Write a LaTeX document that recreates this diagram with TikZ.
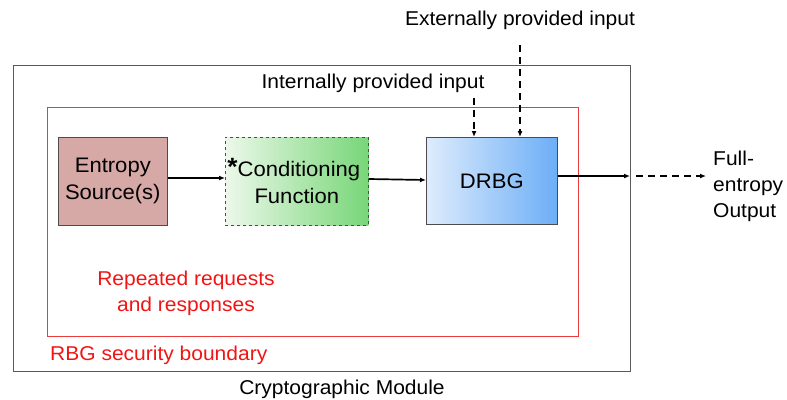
\documentclass[tikz,border=0pt]{standalone}
\usepackage{fontspec}
\setmainfont[FakeStretch=1.05]{Liberation Sans}
\usetikzlibrary{arrows.meta,shadings}
\definecolor{entfill}{RGB}{214,168,166}
\definecolor{gL}{RGB}{236,248,234}
\definecolor{gR}{RGB}{120,214,120}
\definecolor{bL}{RGB}{222,236,252}
\definecolor{bR}{RGB}{108,174,246}
\definecolor{redb}{RGB}{235,60,60}
\definecolor{txtred}{RGB}{240,20,20}
\begin{document}
\begin{tikzpicture}[x=1pt,y=-1pt,
  lbl/.style={font=\fontsize{20}{26}\selectfont, inner sep=0pt, align=center},
  box/.style={draw=black!70, line width=0.6pt, minimum height=88pt, anchor=north west, inner sep=0pt, align=center, font=\fontsize{21}{27}\selectfont},
  arr/.style={-{Latex[length=6pt,width=5pt]}, line width=1.7pt},
  darr/.style={-{Latex[length=6pt,width=5pt]}, line width=1.6pt, dash pattern=on 7pt off 5pt}]
\useasboundingbox (0,0) rectangle (787,399);
\draw[black!65, line width=0.8pt] (13,65) rectangle (630,371);
\draw[redb, line width=0.7pt] (47,107) rectangle (578,336);
\node[box, fill=entfill, minimum width=109pt] (ent) at (58,137) {Entropy\\Source(s)};
\node[box, left color=gL, right color=gR, dashed, minimum width=143pt] (cond) at (225,137) {\hspace*{-6pt}\raisebox{1pt}{\fontsize{25}{25}\selectfont\bfseries *}Conditioning\\Function};
\node[box, left color=bL, right color=bR, minimum width=131pt, minimum height=87pt] (drbg) at (426,137) {DRBG};
\coordinate (mod) at (630,176);
\coordinate (outend) at (706,176);
\draw[arr] (ent.east |- 0,178) -- (cond.west |- 0,178);
\draw[arr] (cond.east |- 0,179) -- (drbg.west |- 0,180);
\draw[arr] (drbg.east |- 0,176) -- (mod);
\draw[darr] (mod) ++(6,0) coordinate (m2) (m2) -- (outend);
\node[lbl, anchor=west, align=left] (out) at (713,186) {Full-\\entropy\\Output};
\node[lbl] (ext) at (520,20) {Externally provided input};
\node[lbl] (int) at (373,83) {Internally provided input};
\coordinate (i1) at (474,98);
\coordinate (e1) at (520,45);
\draw[darr] (i1) -- (i1 |- drbg.north);
\draw[darr] (e1) -- (e1 |- drbg.north);
\node[lbl, text=txtred] (rep) at (186,293) {Repeated requests\\and responses};
\node[lbl, text=txtred, anchor=west] (rbg) at (50,355) {RBG security boundary};
\node[lbl] (cm) at (342,389) {Cryptographic Module};
\end{tikzpicture}
\end{document}
